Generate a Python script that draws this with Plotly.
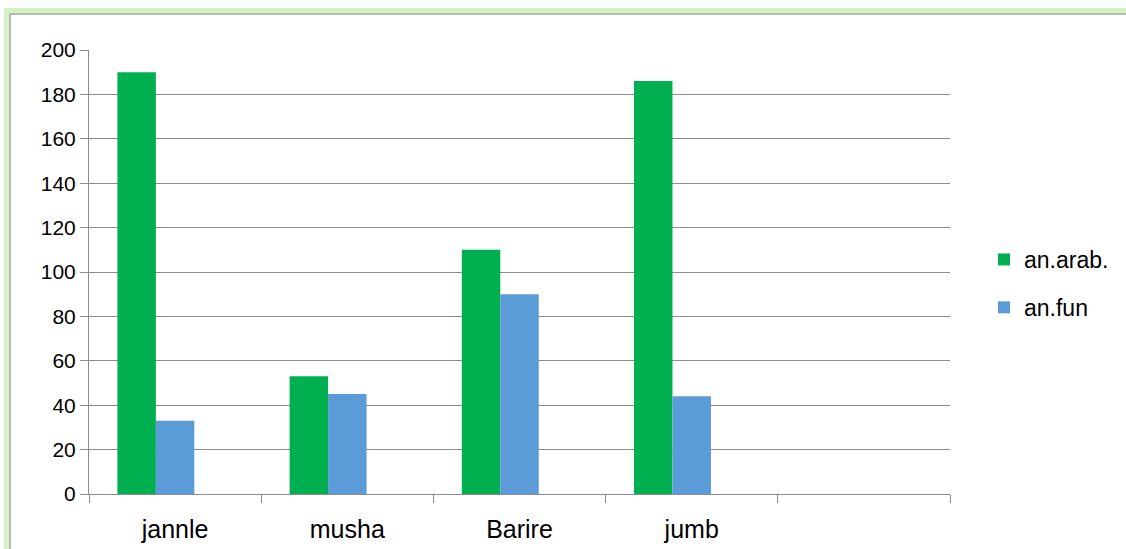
import plotly.graph_objects as go

categories = ["jannle", "musha", "Barire", "jumb", " "]
an_arab = [190, 53, 110, 186, None]
an_fun = [33, 45, 90, 44, None]
empty_series = [None, None, None, None, None]
y_ticks = [0, 20, 40, 60, 80, 100, 120, 140, 160, 180, 200]

W, H = 1126, 549
L, R, T, B = 89, 176, 50, 55
pw, ph = W - L - R, H - T - B

def px_x(p):
    return (p - L) / pw

def px_y(p):
    return (H - B - p) / ph

fig = go.Figure()
fig.add_trace(go.Bar(x=categories, y=an_arab, name="an.arab.", marker_color="#00b050",
                     marker_line_width=0, legendgroup="a"))
fig.add_trace(go.Bar(x=categories, y=an_fun, name="an.fun", marker_color="#5b9bd8",
                     marker_line_width=0, legendgroup="b"))
fig.add_trace(go.Bar(x=categories, y=empty_series, name="", showlegend=False,
                     marker_color="rgba(0,0,0,0)", legendgroup="c"))

# outer frame with green glow
fig.add_shape(type="rect", xref="paper", yref="paper",
              x0=px_x(7), x1=px_x(1135), y0=px_y(560), y1=px_y(11),
              line=dict(color="#d4f2c2", width=6), layer="below")
fig.add_shape(type="rect", xref="paper", yref="paper",
              x0=px_x(10), x1=px_x(1135), y0=px_y(560), y1=px_y(14),
              line=dict(color="#a6a6a6", width=1.5), layer="below")

fig.update_layout(
    width=W, height=H,
    margin=dict(l=L, r=R, t=T, b=B, autoexpand=False),
    paper_bgcolor="white", plot_bgcolor="white",
    barmode="group", bargap=0.33, bargroupgap=0,
    font=dict(family="Liberation Sans", size=21, color="#000000"),
    legend=dict(x=px_x(984), y=px_y(238), xanchor="left", yanchor="top",
                font=dict(size=23), tracegroupgap=15, itemwidth=30,
                bgcolor="rgba(0,0,0,0)"),
    showlegend=True,
)
fig.update_xaxes(type="category", categoryorder="array", categoryarray=categories,
                 range=[-0.5, 4.5], tickson="boundaries", ticks="outside", ticklen=8,
                 tickcolor="#8c8c8c", showline=True, linecolor="#8c8c8c", linewidth=1,
                 showgrid=False, tickfont=dict(size=25), ticklabelstandoff=13,
                 automargin=False)
fig.update_yaxes(range=[0, 200], tickvals=y_ticks, ticks="outside", ticklen=8,
                 tickcolor="#8c8c8c", showline=True, linecolor="#8c8c8c", linewidth=1,
                 showgrid=True, gridcolor="#8c8c8c", gridwidth=1, zeroline=False,
                 tickfont=dict(size=21), automargin=False)

fig.write_html("out.html")
